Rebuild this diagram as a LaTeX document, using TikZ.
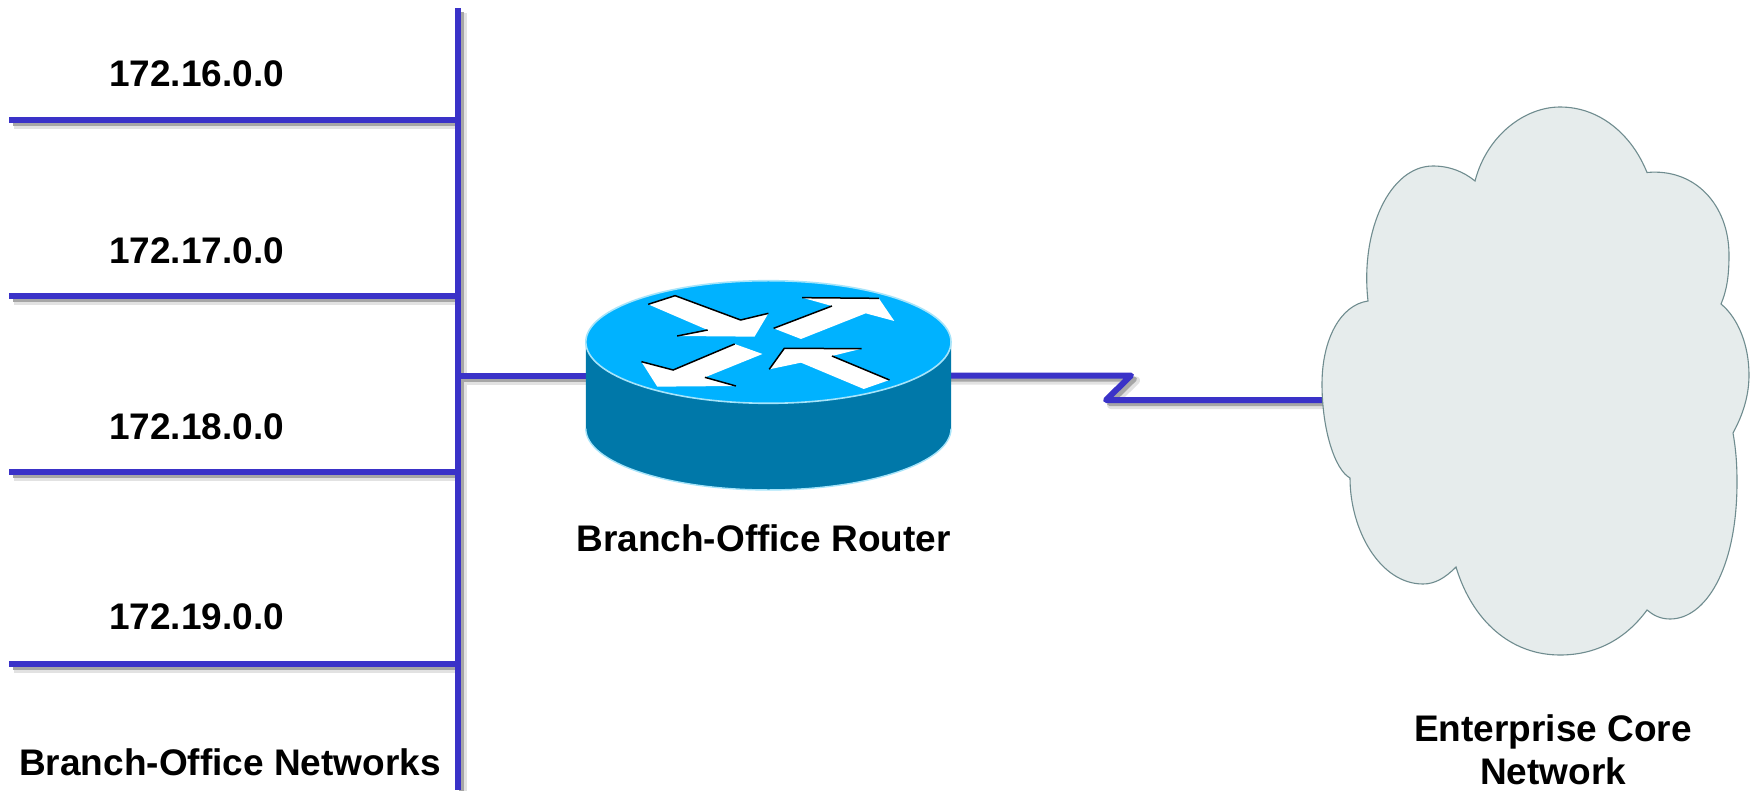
\documentclass[tikz,border=0pt]{standalone}
\usepackage{fontspec}
\setmainfont{Liberation Sans}
\definecolor{linkblue}{HTML}{3A32C8}
\definecolor{routertop}{HTML}{00B2FF}
\definecolor{routerside}{HTML}{0078A9}
\definecolor{routerrim}{HTML}{A6E4FA}
\definecolor{cloudfill}{HTML}{E6ECEC}
\definecolor{cloudedge}{HTML}{6F8C8F}
\definecolor{shadowlight}{HTML}{E2E2E2}
\definecolor{shadowdark}{HTML}{A6A6A6}
\tikzset{
  x=1pt,y=-1pt,
  linkline/.style={draw=linkblue,line width=6pt},
  shadowa/.style={draw=shadowlight,line width=8pt,transform canvas={shift={(5pt,-5pt)}}},
  shadowb/.style={draw=shadowdark,line width=5pt,transform canvas={shift={(3.5pt,-3.5pt)}}},
  lbl/.style={font=\fontsize{37}{42}\selectfont\bfseries,inner sep=0pt,align=center,text=black},
  arrowfill/.style={fill=white,draw=none},
  arrowedge/.style={draw=black,line width=1.5pt},
}
\begin{document}
\begin{tikzpicture}
\useasboundingbox[fill=white] (0,0) rectangle (1756,790);
% named connection points
\coordinate (busT) at (457.5,8);
\coordinate (busB) at (457.5,790);
\coordinate (h1) at (9,120);  \coordinate (j1) at (457.5,120);
\coordinate (h2) at (9,296);  \coordinate (j2) at (457.5,296);
\coordinate (h3) at (9,472);  \coordinate (j3) at (457.5,472);
\coordinate (h4) at (9,664);  \coordinate (j4) at (457.5,664);
\coordinate (j5) at (457.5,375.5);
\coordinate (rL) at (590,375.5);
\coordinate (rR) at (945,375.5);
\coordinate (z1) at (1131,375.5);
\coordinate (z2) at (1106,400);
\coordinate (cL) at (1330,400);
% shadows
\foreach \s in {shadowa,shadowb}{
  \draw[\s] (busT) -- (busB);
  \draw[\s] (h1) -- (j1);
  \draw[\s] (h2) -- (j2);
  \draw[\s] (h3) -- (j3);
  \draw[\s] (h4) -- (j4);
  \draw[\s] (j5) -- (rL);
  \draw[\s,line join=round] (rR) -- (z1) -- (z2) -- (cL);
}
% links
\draw[linkline] (busT) -- (busB);
\draw[linkline] (h1) -- (j1);
\draw[linkline] (h2) -- (j2);
\draw[linkline] (h3) -- (j3);
\draw[linkline] (h4) -- (j4);
\draw[linkline] (j5) -- (rL);
\draw[linkline,line join=round] (rR) -- (z1) -- (z2) -- (cL);
% cloud
\draw[fill=cloudfill,draw=cloudedge,line width=1.1pt]
  (1368,301) .. controls (1360,230) and (1390,166) .. (1433,166)
  .. controls (1450,166) and (1464,172) .. (1475,181)
  .. controls (1487,135) and (1525,107) .. (1560,107)
  .. controls (1600,107) and (1632,135) .. (1647,172.5)
  .. controls (1695,168) and (1729,205) .. (1729,255)
  .. controls (1729,275) and (1727,290) .. (1721,304)
  .. controls (1738,318) and (1749,345) .. (1749,375)
  .. controls (1749,400) and (1740,420) .. (1733,433)
  .. controls (1736,450) and (1737,465) .. (1737,482)
  .. controls (1737,570) and (1705,619) .. (1670,619)
  .. controls (1660,619) and (1653,615) .. (1647,610)
  .. controls (1625,640) and (1595,655) .. (1560,655)
  .. controls (1510,655) and (1472,620) .. (1456,567)
  .. controls (1445,578) and (1435,584) .. (1423,584)
  .. controls (1380,584) and (1350,530) .. (1350,478)
  .. controls (1335,470) and (1322,430) .. (1322,384)
  .. controls (1322,340) and (1340,305) .. (1368,301)
  -- cycle;
% router
\begin{scope}[shift={(560pt,-260pt)},x=.397pt,y=-.3333pt]
\fill[routerside] (65,246) -- (65,506) arc[start angle=180,end angle=360,x radius=182.6pt,y radius=61.3pt] -- (985,246) -- cycle;
\draw[routerrim,line width=1.4pt] (65,506) arc[start angle=180,end angle=360,x radius=182.6pt,y radius=61.3pt];
\draw[fill=routertop,draw=routerrim,line width=1.6pt] (525,246) ellipse[x radius=182.6pt,y radius=61.3pt];
\fill[arrowfill] (222,133)--(290,107)--(455,180)--(525,160)--(490,230)--(295,228)--(372,210)--cycle;
\draw[arrowedge] (222,133)--(290,107)--(455,180)--(525,160);
\draw[arrowedge] (295,228)--(372,210);
\fill[arrowfill] (538,205)--(685,138)--(610,113)--(803,115)--(842,183)--(770,160)--(607,237)--cycle;
\draw[arrowedge] (538,205)--(685,138);
\draw[arrowedge] (610,113)--(803,115);
\fill[arrowfill] (510,282)--(440,252)--(285,330)--(205,305)--(245,380)--(443,378)--(365,352)--cycle;
\draw[arrowedge] (440,252)--(285,330)--(205,305);
\draw[arrowedge] (365,352)--(443,378);
\fill[arrowfill] (830,360)--(685,288)--(760,266)--(565,265)--(527,328)--(607,308)--(765,387)--cycle;
\draw[arrowedge] (830,360)--(685,288);
\draw[arrowedge] (760,266)--(565,265)--(527,328);
\end{scope}
% labels
\node[lbl] (n1) at (196.5,74) {172.16.0.0};
\node[lbl] (n2) at (196.5,251) {172.17.0.0};
\node[lbl] (n3) at (196.5,427) {172.18.0.0};
\node[lbl] (n4) at (196.5,617) {172.19.0.0};
\node[lbl] (bon) at (230,762) {Branch-Office Networks};
\node[lbl] (bor) at (763.5,538) {Branch-Office Router};
\node[lbl] (ec1) at (1553,732) {Enterprise Core};
\node[lbl] (ec2) at (1553,771) {Network};
\end{tikzpicture}
\end{document}
